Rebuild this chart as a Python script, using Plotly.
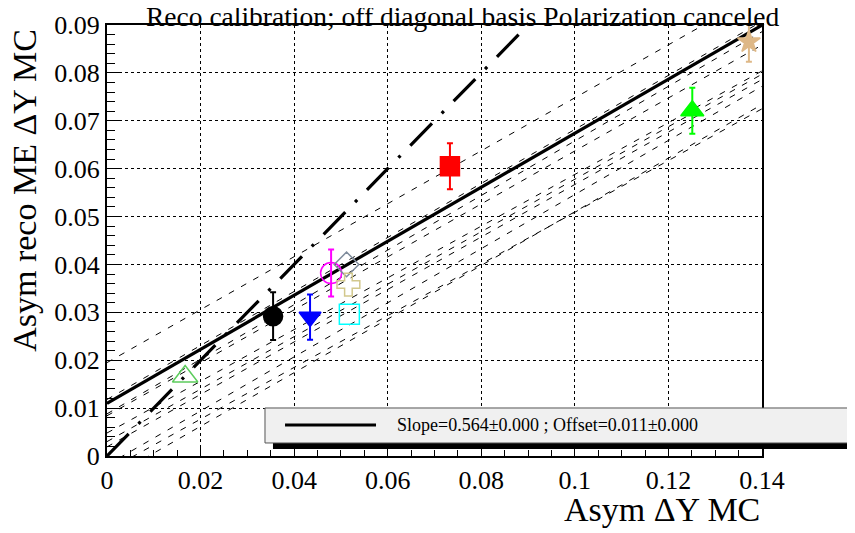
import numpy as np
import plotly.graph_objects as go

# calibration points (MC asymmetry vs reco ME asymmetry)
x_mc = [0.0355, 0.0434, 0.0479, 0.0512, 0.0516, 0.0518, 0.0167, 0.0733, 0.1251, 0.1372]
y_reco = [0.0292, 0.0290, 0.0382, 0.0400, 0.0358, 0.0296, 0.0166, 0.0605, 0.0721, 0.0865]
y_err = [0.0050, 0.0047, 0.0049, 0.0, 0.0, 0.0, 0.0, 0.0048, 0.0048, 0.0042]
colors = ["black", "blue", "magenta", "#7f8c9c", "#d2c88c", "cyan", "#5ccc5c", "red", "#00ff00", "#deb887"]
symbols = ["circle", "triangle-down", "circle-open", "diamond-open", "cross-open",
           "square-open", "triangle-up-open", "square", "triangle-up", "star"]
sizes = [19, 19, 21, 19, 19, 20, 22, 19, 20, 17]

# thin dashed lines (individual calibrations)
dash_slopes = [0.553, 0.564, 0.570, 0.553, 0.540, 0.548, 0.548, 0.565, 0.540, 0.560]
dash_offsets = [0.0195, 0.0118, 0.0088, 0.0084, 0.0048, 0.0030, 0.0019, -0.0019, -0.0031, -0.0050]

# global fit and diagonal
fit_slope, fit_offset = 0.564, 0.011
diag_slope, diag_offset = 1.0, 0.0

x_line = np.array([0.0, 0.14])
FONT = "Liberation Serif, Times New Roman, serif"

fig = go.Figure()

for s, o in zip(dash_slopes, dash_offsets):
    fig.add_trace(go.Scatter(x=x_line, y=s * x_line + o, mode="lines",
                             line=dict(color="black", width=1, dash="6px,8px"),
                             showlegend=False, hoverinfo="skip"))

fig.add_trace(go.Scatter(x=x_line, y=diag_slope * x_line + diag_offset, mode="lines",
                         line=dict(color="black", width=3.2, dash="31px,14px,3px,14px"),
                         showlegend=False, hoverinfo="skip"))

fig.add_trace(go.Scatter(x=x_line, y=fit_slope * x_line + fit_offset, mode="lines",
                         line=dict(color="black", width=3.2),
                         showlegend=False))

for i in range(len(x_mc)):
    fig.add_trace(go.Scatter(
        x=[x_mc[i]], y=[y_reco[i]], mode="markers",
        marker=dict(symbol=symbols[i], color=colors[i], size=sizes[i],
                    line=dict(color=colors[i], width=1.5)),
        error_y=dict(type="data", array=[y_err[i]], visible=y_err[i] > 0,
                     color=colors[i], thickness=2, width=3),
        showlegend=False, cliponaxis=False))

fig.update_xaxes(
    range=[0, 0.14], dtick=0.02, tick0=0, automargin=False,
    showline=True, linewidth=2, linecolor="black", mirror=True,
    ticks="inside", ticklen=9, tickwidth=1, tickcolor="black",
    showgrid=True, gridcolor="black", griddash="dot", gridwidth=1,
    zeroline=False,
    minor=dict(dtick=0.005, ticks="inside", ticklen=6, tickcolor="black", showgrid=False),
    tickfont=dict(family=FONT, size=26, color="black"),
)
fig.update_yaxes(
    range=[0, 0.09], dtick=0.01, tick0=0, automargin=False,
    showline=True, linewidth=2, linecolor="black", mirror=True,
    ticks="inside", ticklen=12, tickwidth=1, tickcolor="black",
    showgrid=True, gridcolor="black", griddash="dot", gridwidth=1,
    zeroline=False,
    minor=dict(dtick=0.002, ticks="inside", ticklen=8, tickcolor="black", showgrid=False),
    tickfont=dict(family=FONT, size=26, color="black"),
)

# legend box ROOT style (shadow + box), running off the right side
fig.add_shape(type="rect", xref="paper", yref="paper", x0=0.2534, x1=1.25, y0=0.0163, y1=0.06,
              fillcolor="black", line=dict(width=0), layer="above")
fig.add_shape(type="rect", xref="paper", yref="paper", x0=0.2412, x1=1.25, y0=0.0302, y1=0.1114,
              fillcolor="#f0f0f0", line=dict(color="#555555", width=1), layer="above")
fig.add_shape(type="line", xref="paper", yref="paper", x0=0.2718, x1=0.4107, y0=0.0719, y1=0.0719,
              line=dict(color="black", width=3.2), layer="above")
fig.add_annotation(xref="paper", yref="paper", x=0.4397, y=0.0719, xanchor="left", yanchor="middle",
                   text=f"Slope={fit_slope:.3f}\u00b10.000 ; Offset={fit_offset:.3f}\u00b10.000",
                   showarrow=False, font=dict(family=FONT, size=18, color="black"))

# title and axis titles
fig.add_annotation(xref="paper", yref="paper", x=0.544, y=1, xanchor="center", yanchor="bottom",
                   yshift=-9, text="Reco calibration; off diagonal basis Polarization canceled",
                   showarrow=False, font=dict(family=FONT, size=27.5, color="black"))
fig.add_annotation(xref="paper", yref="paper", x=-0.125, y=0.995, xanchor="center", yanchor="top",
                   textangle=-90, text="Asym reco ME \u0394Y MC",
                   showarrow=False, font=dict(family=FONT, size=34, color="black"))
fig.add_annotation(xref="paper", yref="paper", x=1.0, y=-0.123, xanchor="right", yanchor="middle",
                   text="Asym \u0394Y MC",
                   showarrow=False, font=dict(family=FONT, size=34, color="black"))

# page body has an 8px margin, so the figure is 8px smaller than the window
fig.update_layout(
    width=847, height=525,
    margin=dict(l=99, r=93, t=17, b=77),
    paper_bgcolor="white", plot_bgcolor="white",
    showlegend=False,
    font=dict(family=FONT, color="black"),
)

fig.write_html("out.html")
